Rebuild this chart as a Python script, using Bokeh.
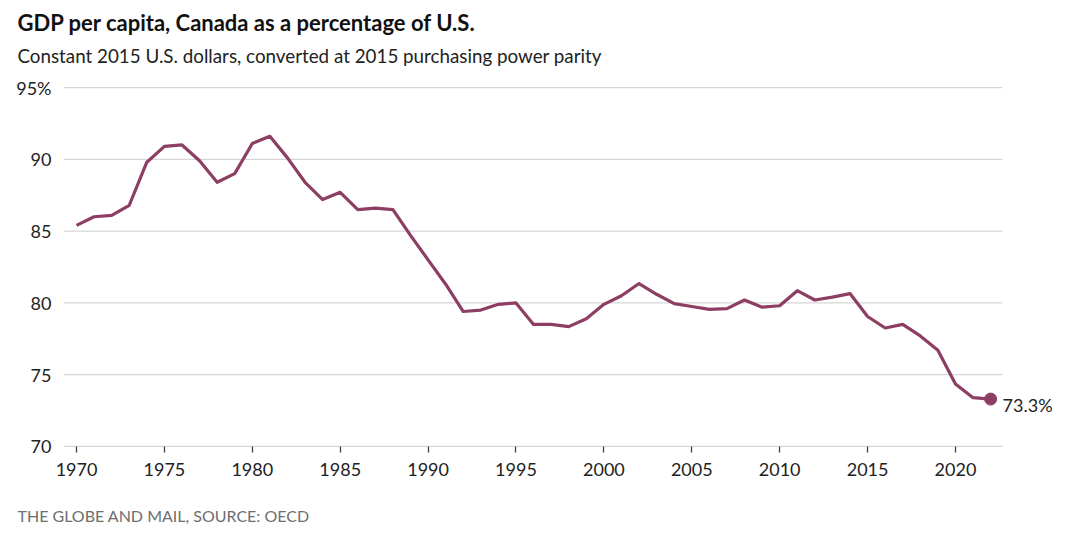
from bokeh.plotting import figure
from bokeh.models import Label, FixedTicker, Range1d, Title
from bokeh.embed import file_html
from bokeh.resources import INLINE

years = list(range(1970, 2023))
values = [85.4, 86.0, 86.1, 86.8, 89.8, 90.9, 91.0, 89.9, 88.4, 89.0,
          91.1, 91.6, 90.1, 88.4, 87.2, 87.7, 86.5, 86.6, 86.5, 84.7,
          83.0, 81.3, 79.4, 79.5, 79.9, 80.0, 78.5, 78.5, 78.35, 78.9,
          79.9, 80.5, 81.35, 80.6, 79.95, 79.75, 79.55, 79.6, 80.2, 79.7,
          79.8, 80.85, 80.2, 80.4, 80.65, 79.05, 78.25, 78.5, 77.7, 76.7,
          74.35, 73.4, 73.3]
x_ticks = [1970, 1975, 1980, 1985, 1990, 1995, 2000, 2005, 2010, 2015, 2020]
y_ticks = [70, 75, 80, 85, 90, 95]

title_text = "GDP per capita, Canada as a percentage of U.S."
subtitle_text = "Constant 2015 U.S. dollars, converted at 2015 purchasing power parity"
footer_text = "THE GLOBE AND MAIL, SOURCE: OECD"
end_label = "73.3%"

LINE = "#8c3f63"
FONT = "Lato"

X0, X1 = 1969.26, 2022.67   # extent of the horizontal grid lines

p = figure(width=1080, height=535, output_backend="svg", toolbar_location=None,
           title=title_text,
           x_range=Range1d(1969.26, 2026.43), y_range=Range1d(69.58, 95.49),
           min_border_left=63, min_border_right=12, min_border_top=80, min_border_bottom=83)
p.outline_line_color = None
p.background_fill_color = "white"
p.border_fill_color = "white"
p.xgrid.grid_line_color = None
p.ygrid.grid_line_color = None

# main title (figure title, topmost)
p.title.align = "left"
p.title.offset = 17 - 63
p.title.text_font = FONT
p.title.text_font_style = "bold"
p.title.text_font_size = "22px"
p.title.text_color = "#111111"
p.title.standoff = -16

# subtitle, closer to the chart
p.add_layout(Title(text=subtitle_text, align="left", offset=17 - 63, text_font=FONT,
                   text_font_style="normal", text_font_size="18.8px", text_color="#222222",
                   standoff=28), "above")

# grid lines, ending at the right edge of the chart area
p.segment(x0=[X0] * len(y_ticks), y0=y_ticks, x1=[X1] * len(y_ticks), y1=y_ticks,
          line_color="#d6d6d6", line_width=1.3)

p.xaxis.ticker = FixedTicker(ticks=x_ticks)
p.xaxis.axis_line_color = None
p.xaxis.major_tick_in = 6
p.xaxis.major_tick_out = 0
p.xaxis.major_tick_line_color = "#444444"
p.xaxis.major_tick_line_width = 1.3
p.xaxis.minor_tick_line_color = None
p.xaxis.major_label_standoff = 10
p.xaxis.major_label_text_font = FONT
p.xaxis.major_label_text_font_size = "18px"
p.xaxis.major_label_text_color = "#222222"

p.yaxis.ticker = FixedTicker(ticks=y_ticks)
p.yaxis.axis_line_color = None
p.yaxis.major_tick_line_color = None
p.yaxis.minor_tick_line_color = None
p.yaxis.major_label_standoff = 6
p.yaxis.major_label_text_font = FONT
p.yaxis.major_label_text_font_size = "18px"
p.yaxis.major_label_text_color = "#222222"
p.yaxis.major_label_overrides = {95: "95%"}

p.line(years, values, line_color=LINE, line_width=3.2, line_join="round")
p.scatter([years[-1]], [values[-1]], size=12, fill_color=LINE, line_color=LINE)

p.add_layout(Label(x=years[-1], y=values[-1], text=end_label, x_offset=12, y_offset=-6,
                   text_font=FONT, text_font_size="18px", text_color="#222222",
                   text_baseline="middle", text_align="left"))

# spacer between axis labels and the source line
p.add_layout(Title(text=" ", text_font=FONT, text_font_size="10px", standoff=9), "below")
p.add_layout(Title(text=footer_text, align="left", offset=17 - 63, text_font=FONT,
                   text_font_style="normal", text_font_size="16px", text_color="#6e6e6e",
                   standoff=4), "below")

open("out.html", "w").write(file_html(p, INLINE))
